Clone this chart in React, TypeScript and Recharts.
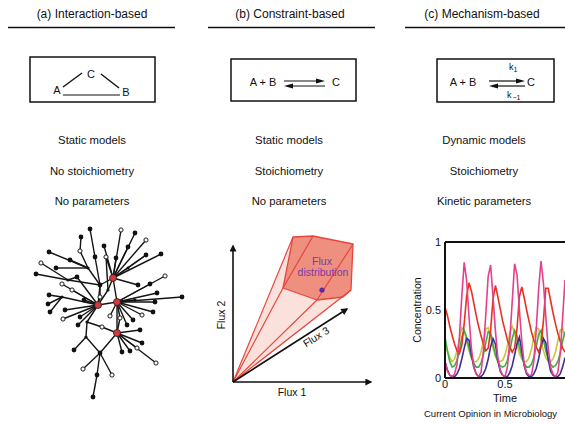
import React from "react"
import { LineChart, Line, XAxis, YAxis, ReferenceLine, ScatterChart, Scatter } from "recharts"

const FONT = '"Liberation Sans", Arial, Helvetica, sans-serif'

// ---- text rows under the three panel headers ----
const panelTitles = ["(a) Interaction-based", "(b) Constraint-based", "(c) Mechanism-based"]
const modelKinds = ["Static models", "Static models", "Dynamic models"]
const stoichiometry = ["No stoichiometry", "Stoichiometry", "Stoichiometry"]
const parameters = ["No parameters", "No parameters", "Kinetic parameters"]

// ---- (c) concentration time course ----
const timeSteps = [
  0, 0.02, 0.04, 0.06, 0.08, 0.1, 0.12, 0.14, 0.16, 0.18, 0.2, 0.22, 0.24, 0.26, 0.28, 0.3, 0.32,
  0.34, 0.36, 0.38, 0.4, 0.42, 0.44, 0.46, 0.48, 0.5, 0.52, 0.54, 0.56, 0.58, 0.6, 0.62, 0.64,
  0.66, 0.68, 0.7, 0.72, 0.74, 0.76, 0.78, 0.8, 0.82, 0.84, 0.86, 0.88, 0.9, 0.92, 0.94, 0.96,
  0.98, 1,
]
const pinkSeries = [
  0.12, 0.05, 0.02, 0.01, 0.03, 0.1, 0.3, 0.6, 0.85, 0.72, 0.45, 0.22, 0.08, 0.03, 0.01, 0.04, 0.2,
  0.47, 0.75, 0.83, 0.6, 0.35, 0.15, 0.06, 0.02, 0.01, 0.08, 0.28, 0.56, 0.84, 0.76, 0.5, 0.27,
  0.1, 0.04, 0.02, 0.02, 0.12, 0.35, 0.65, 0.86, 0.7, 0.45, 0.22, 0.08, 0.03, 0.01, 0.04, 0.18,
  0.44, 0.72,
]
const redSeries = [
  0.52, 0.46, 0.38, 0.31, 0.25, 0.2, 0.18, 0.24, 0.4, 0.6, 0.7, 0.64, 0.55, 0.46, 0.38, 0.31, 0.25,
  0.2, 0.22, 0.35, 0.58, 0.68, 0.6, 0.51, 0.42, 0.35, 0.28, 0.23, 0.19, 0.22, 0.36, 0.6, 0.67,
  0.59, 0.5, 0.42, 0.34, 0.28, 0.23, 0.19, 0.24, 0.42, 0.66, 0.66, 0.57, 0.48, 0.4, 0.33, 0.27,
  0.22, 0.19,
]
const greenSeries = [
  0.3, 0.2, 0.12, 0.08, 0.09, 0.13, 0.2, 0.3, 0.35, 0.3, 0.22, 0.15, 0.11, 0.08, 0.08, 0.11, 0.17,
  0.26, 0.34, 0.33, 0.25, 0.17, 0.12, 0.09, 0.08, 0.09, 0.13, 0.2, 0.29, 0.35, 0.31, 0.23, 0.16,
  0.11, 0.08, 0.08, 0.1, 0.15, 0.23, 0.32, 0.35, 0.28, 0.2, 0.14, 0.1, 0.08, 0.09, 0.12, 0.18,
  0.27, 0.34,
]
const yellowSeries = [
  0.28, 0.2, 0.15, 0.12, 0.14, 0.2, 0.29, 0.37, 0.35, 0.27, 0.2, 0.15, 0.12, 0.12, 0.14, 0.19,
  0.27, 0.36, 0.37, 0.3, 0.22, 0.16, 0.13, 0.12, 0.13, 0.17, 0.24, 0.33, 0.38, 0.33, 0.25, 0.18,
  0.14, 0.12, 0.12, 0.15, 0.21, 0.3, 0.37, 0.36, 0.28, 0.2, 0.15, 0.12, 0.12, 0.14, 0.19, 0.27,
  0.35, 0.37, 0.3,
]
const blueSeries = [
  0.12, 0.06, 0.02, 0.01, 0.01, 0.03, 0.07, 0.14, 0.22, 0.29, 0.28, 0.17, 0.08, 0.03, 0.01, 0.01,
  0.03, 0.07, 0.14, 0.23, 0.29, 0.25, 0.13, 0.05, 0.02, 0.01, 0.01, 0.04, 0.09, 0.17, 0.25, 0.3,
  0.2, 0.09, 0.03, 0.01, 0.01, 0.03, 0.07, 0.14, 0.23, 0.29, 0.26, 0.14, 0.05, 0.02, 0.01, 0.01,
  0.03, 0.08, 0.15,
]
const timeTicks = [0, 0.5]
const timeTickLabels = ["0", "0.5"]
const concTicks = [0, 0.5, 1]
const concTickLabels = ["0", "0.5", "1"]

// ---- (a) network: nodes and edges ----
const networkNodes = [
  { x: 113, y: 278, kind: "hub" }, { x: 98, y: 305, kind: "hub" }, { x: 117, y: 302, kind: "hub" },
  { x: 117, y: 333, kind: "hub" }, { x: 100, y: 285, kind: "filled" }, { x: 88, y: 268, kind: "joint" },
  { x: 68, y: 280, kind: "joint" }, { x: 62, y: 297, kind: "joint" }, { x: 87, y: 322, kind: "joint" },
  { x: 100, y: 353, kind: "filled" }, { x: 86, y: 337, kind: "joint" }, { x: 128, y: 268, kind: "joint" },
  { x: 90, y: 229, kind: "filled" }, { x: 121, y: 230, kind: "hollow" }, { x: 135, y: 233, kind: "filled" },
  { x: 81, y: 237, kind: "filled" }, { x: 146, y: 240, kind: "hollow" }, { x: 49, y: 252, kind: "filled" },
  { x: 80, y: 251, kind: "hollow" }, { x: 95, y: 257, kind: "filled" }, { x: 106, y: 257, kind: "hollow" },
  { x: 116, y: 258, kind: "filled" }, { x: 146, y: 255, kind: "filled" }, { x: 161, y: 254, kind: "filled" },
  { x: 41, y: 263, kind: "hollow" }, { x: 70, y: 260, kind: "filled" }, { x: 36, y: 274, kind: "filled" },
  { x: 77, y: 277, kind: "filled" }, { x: 62, y: 284, kind: "hollow" }, { x: 49, y: 295, kind: "filled" },
  { x: 150, y: 284, kind: "filled" }, { x: 157, y: 293, kind: "filled" }, { x: 182, y: 297, kind: "filled" },
  { x: 155, y: 302, kind: "filled" }, { x: 48, y: 304, kind: "filled" }, { x: 50, y: 312, kind: "filled" },
  { x: 65, y: 310, kind: "filled" }, { x: 63, y: 319, kind: "hollow" }, { x: 80, y: 317, kind: "filled" },
  { x: 78, y: 325, kind: "filled" }, { x: 153, y: 312, kind: "filled" }, { x: 142, y: 315, kind: "hollow" },
  { x: 133, y: 320, kind: "filled" }, { x: 127, y: 325, kind: "filled" }, { x: 102, y: 327, kind: "hollow" },
  { x: 142, y: 343, kind: "filled" }, { x: 122, y: 352, kind: "filled" }, { x: 130, y: 351, kind: "filled" },
  { x: 137, y: 348, kind: "hollow" }, { x: 156, y: 363, kind: "hollow" }, { x: 74, y: 350, kind: "filled" },
  { x: 83, y: 369, kind: "hollow" }, { x: 112, y: 375, kind: "hollow" }, { x: 97, y: 375, kind: "filled" },
  { x: 93, y: 397, kind: "filled" }, { x: 135, y: 300, kind: "joint" }, { x: 108, y: 290, kind: "joint" },
  { x: 120, y: 318, kind: "hollow" }, { x: 138, y: 285, kind: "filled" }, { x: 100, y: 297, kind: "hollow" },
  { x: 104, y: 246, kind: "filled" }, { x: 128, y: 247, kind: "filled" }, { x: 56, y: 268, kind: "filled" },
  { x: 72, y: 290, kind: "hollow" }, { x: 165, y: 276, kind: "hollow" }, { x: 140, y: 330, kind: "filled" },
  { x: 84, y: 300, kind: "filled" }, { x: 110, y: 316, kind: "hollow" },
]
const networkEdges = [
  [0, 13], [0, 14], [0, 16], [0, 22], [0, 23], [0, 20], [0, 21], [0, 11], [0, 4], [0, 56], [0, 2],
  [12, 19], [19, 4], [15, 18], [18, 5], [5, 4], [5, 25], [17, 5], [24, 6], [26, 6], [6, 27], [6, 4],
  [27, 1], [28, 1], [29, 7], [7, 1], [34, 7], [35, 7], [36, 1], [37, 1], [38, 1], [39, 1],
  [30, 2], [31, 2], [32, 2], [33, 2], [40, 2], [41, 2], [42, 2], [43, 2], [55, 2], [58, 0],
  [1, 2], [1, 4], [1, 59], [59, 4], [2, 3], [1, 8], [8, 10], [8, 44], [44, 3], [3, 45], [3, 46],
  [3, 47], [3, 48], [3, 49], [3, 57], [57, 2], [10, 50], [10, 9], [9, 3], [9, 51], [9, 52],
  [9, 53], [53, 54], [56, 1], [56, 20], [11, 22],
  [60, 0], [61, 0], [62, 5], [63, 1], [64, 2], [65, 3], [66, 1], [67, 2],
]

// ---- (b) flux cone ----
const fluxOrigin = { x: 233, y: 382 }
const fluxCone = [fluxOrigin, { x: 293, y: 237 }, { x: 283, y: 288 }, { x: 317, y: 300 }, { x: 343, y: 297 }, { x: 351, y: 290 }]
const fluxPolytope = [
  { x: 293, y: 237 }, { x: 313, y: 236 }, { x: 353, y: 244 }, { x: 351, y: 290 },
  { x: 343, y: 297 }, { x: 317, y: 300 }, { x: 283, y: 288 },
]
const fluxRays = [
  [fluxOrigin, { x: 293, y: 237 }], [fluxOrigin, { x: 283, y: 288 }],
  [fluxOrigin, { x: 317, y: 300 }], [fluxOrigin, { x: 351, y: 290 }],
  [{ x: 313, y: 236 }, { x: 283, y: 288 }], [{ x: 353, y: 244 }, { x: 317, y: 300 }],
]
const fluxAxes = [
  [fluxOrigin, { x: 371, y: 382 }],
  [fluxOrigin, { x: 233, y: 246 }],
  [fluxOrigin, { x: 347, y: 309 }],
]
const fluxPoint = [{ x: 322, y: 290 }]

const concRows = timeSteps.map((t, i) => ({
  t,
  pink: pinkSeries[i],
  red: redSeries[i],
  green: greenSeries[i],
  yellow: yellowSeries[i],
  blue: blueSeries[i],
}))

const pathLine = (fill: string, stroke: string, closed: boolean, width = 1.2, marker?: string) =>
  (props: any) => {
    const pts = props.points || []
    const d = pts.map((p: any, i: number) => `${i ? "L" : "M"}${p.x},${p.y}`).join(" ") + (closed ? " Z" : "")
    return <path d={d} fill={fill} stroke={stroke} strokeWidth={width} strokeLinejoin="round" markerEnd={marker} />
  }

const noShape = () => <g />
const fluxDot = (props: any) => <circle cx={props.cx} cy={props.cy} r={2.6} fill="#5b2aa8" />

const NodeShape = (props: any) => {
  const { cx, cy, payload } = props
  if (payload.kind === "hub") return <circle cx={cx} cy={cy} r={3.5} fill="#d9363e" stroke="#222" strokeWidth={0.8} />
  if (payload.kind === "hollow") return <circle cx={cx} cy={cy} r={2.1} fill="#fff" stroke="#1a1a1a" strokeWidth={1} />
  if (payload.kind === "joint") return <circle cx={cx} cy={cy} r={1.6} fill="#111" />
  return <circle cx={cx} cy={cy} r={2.4} fill="#111" />
}

function NetworkPanel() {
  return (
    <div style={{ position: "absolute", left: 20, top: 220 }}>
      <ScatterChart width={180} height={190} margin={{ top: 0, right: 0, bottom: 0, left: 0 }}>
        <XAxis type="number" dataKey="x" domain={[20, 200]} hide />
        <YAxis type="number" dataKey="y" domain={[220, 410]} reversed hide />
        {networkEdges.map(([a, b], i) => (
          <ReferenceLine
            key={i}
            segment={[
              { x: networkNodes[a].x, y: networkNodes[a].y },
              { x: networkNodes[b].x, y: networkNodes[b].y },
            ]}
            stroke="#141414"
            strokeWidth={1.4}
          />
        ))}
        <Scatter data={networkNodes} shape={NodeShape} isAnimationActive={false} />
      </ScatterChart>
    </div>
  )
}

function FluxPanel() {
  return (
    <div style={{ position: "absolute", left: 215, top: 225 }}>
      <ScatterChart width={170} height={180} margin={{ top: 0, right: 0, bottom: 0, left: 0 }}>
        <XAxis type="number" dataKey="x" domain={[215, 385]} hide />
        <YAxis type="number" dataKey="y" domain={[225, 405]} reversed hide />
        <Scatter data={fluxCone} line={pathLine("#fbe1dc", "none", true)} shape={noShape} isAnimationActive={false} />
        <Scatter data={fluxPolytope} line={pathLine("#ee8f80", "#e8463c", true, 1.3)} shape={noShape} isAnimationActive={false} />
        {fluxRays.map((seg, i) => (
          <Scatter key={`r${i}`} data={seg} line={pathLine("none", "#e8463c", false, 1.2)} shape={noShape} isAnimationActive={false} />
        ))}
        {fluxAxes.map((seg, i) => (
          <Scatter key={`a${i}`} data={seg} line={pathLine("none", "#111", false, 1.6, "url(#arrowBlack)")} shape={noShape} isAnimationActive={false} />
        ))}
        <Scatter data={fluxPoint} shape={fluxDot} isAnimationActive={false} />
      </ScatterChart>
    </div>
  )
}

function ConcentrationPanel() {
  const tickStyle = { fontSize: 11, fill: "#111", fontFamily: FONT }
  return (
    <div style={{ position: "absolute", left: 400, top: 232 }}>
      <LineChart width={170} height={176} data={concRows} margin={{ top: 10, right: 5, bottom: 0, left: 0 }}>
        <XAxis
          dataKey="t"
          type="number"
          domain={[0, 1]}
          ticks={timeTicks}
          tickFormatter={(v: number) => timeTickLabels[timeTicks.indexOf(v)]}
          axisLine={{ stroke: "#111", strokeWidth: 2 }}
          tickLine={false}
          tickSize={0}
          tickMargin={2}
          tick={tickStyle}
          height={30}
          label={{ value: "Time", position: "insideBottom", offset: 6, style: { fontSize: 11, fill: "#111", fontFamily: FONT } }}
        />
        <YAxis
          type="number"
          domain={[0, 1]}
          ticks={concTicks}
          tickFormatter={(v: number) => concTickLabels[concTicks.indexOf(v)]}
          axisLine={{ stroke: "#111", strokeWidth: 2 }}
          tickLine={false}
          tickSize={0}
          tickMargin={4}
          tick={tickStyle}
          width={45}
          label={{
            value: "Concentration",
            angle: -90,
            position: "insideLeft",
            offset: 17,
            style: { textAnchor: "middle", fontSize: 10.5, fill: "#111", fontFamily: FONT },
          }}
        />
        <ReferenceLine y={1} stroke="#111" strokeWidth={2} />
        <Line dataKey="yellow" stroke="#c9c63a" strokeWidth={1.6} dot={false} isAnimationActive={false} />
        <Line dataKey="green" stroke="#3daf4a" strokeWidth={1.6} dot={false} isAnimationActive={false} />
        <Line dataKey="blue" stroke="#3a2f96" strokeWidth={1.6} dot={false} isAnimationActive={false} />
        <Line dataKey="red" stroke="#e6321f" strokeWidth={1.6} dot={false} isAnimationActive={false} />
        <Line dataKey="pink" stroke="#e4408e" strokeWidth={1.6} dot={false} isAnimationActive={false} />
      </LineChart>
    </div>
  )
}

function Overlay() {
  const cx = [92, 290, 482]
  const rowCx = [92, 289, 484]
  const txt = { fontFamily: FONT, fill: "#111" }
  return (
    <svg width={565} height={424} style={{ position: "absolute", left: 0, top: 0, pointerEvents: "none" }}>
      <defs>
        <marker id="arrowBlack" viewBox="0 0 10 10" refX="8" refY="5" markerWidth="8" markerHeight="7" orient="auto" markerUnits="userSpaceOnUse">
          <path d="M0,0 L10,5 L0,10 z" fill="#111" />
        </marker>
      </defs>
      {panelTitles.map((t, i) => (
        <text key={t} x={cx[i]} y={18} textAnchor="middle" fontSize={12} {...txt}>{t}</text>
      ))}
      <line x1={8} y1={27.5} x2={175} y2={27.5} stroke="#111" strokeWidth={1.3} />
      <line x1={208} y1={27.5} x2={375} y2={27.5} stroke="#111" strokeWidth={1.3} />
      <line x1={405} y1={27.5} x2={565} y2={27.5} stroke="#111" strokeWidth={1.3} />

      {/* (a) box */}
      <rect x={30} y={57} width={125} height={45} fill="none" stroke="#111" strokeWidth={1.5} />
      <text x={57} y={94} textAnchor="middle" fontSize={11} {...txt}>A</text>
      <text x={91} y={78} textAnchor="middle" fontSize={11} {...txt}>C</text>
      <text x={126} y={96} textAnchor="middle" fontSize={11} {...txt}>B</text>
      <line x1={63} y1={87} x2={82} y2={73} stroke="#111" strokeWidth={1.4} />
      <line x1={101} y1={74} x2={119} y2={88} stroke="#111" strokeWidth={1.4} />
      <line x1={63} y1={95} x2={120} y2={95} stroke="#111" strokeWidth={1.2} />

      {/* (b) box */}
      <rect x={231} y={59} width={125} height={42} fill="none" stroke="#111" strokeWidth={1.5} />
      <text x={263} y={86} textAnchor="middle" fontSize={11} {...txt}>A + B</text>
      <line x1={284} y1={81} x2={320} y2={81} stroke="#111" strokeWidth={1.2} />
      <path d="M325,81 L316,78.5 L316,83.5 z" fill="#111" />
      <line x1={289} y1={86} x2={325} y2={86} stroke="#111" strokeWidth={1.2} />
      <path d="M284,86 L293,83.5 L293,88.5 z" fill="#111" />
      <text x={336} y={86} textAnchor="middle" fontSize={11} {...txt}>C</text>

      {/* (c) box */}
      <rect x={437} y={59} width={117} height={43} fill="none" stroke="#111" strokeWidth={1.5} />
      <text x={463} y={86} textAnchor="middle" fontSize={11} {...txt}>A + B</text>
      <line x1={489} y1={81} x2={520} y2={81} stroke="#111" strokeWidth={1.2} />
      <path d="M525,81 L516,78.5 L516,83.5 z" fill="#111" />
      <line x1={494} y1={86} x2={525} y2={86} stroke="#111" strokeWidth={1.2} />
      <path d="M489,86 L498,83.5 L498,88.5 z" fill="#111" />
      <text x={531} y={86} textAnchor="middle" fontSize={11} {...txt}>C</text>
      <text x={509} y={70} fontSize={9} {...txt}>k<tspan fontSize={7} dy={2} fill="#111">1</tspan></text>
      <text x={507} y={98} fontSize={9} {...txt}>k<tspan fontSize={7} dy={2} dx={1} fill="#111">−1</tspan></text>

      {modelKinds.map((t, i) => (
        <text key={`m${i}`} x={rowCx[i]} y={144} textAnchor="middle" fontSize={11.3} {...txt}>{t}</text>
      ))}
      {stoichiometry.map((t, i) => (
        <text key={`s${i}`} x={rowCx[i]} y={175} textAnchor="middle" fontSize={11.3} {...txt}>{t}</text>
      ))}
      {parameters.map((t, i) => (
        <text key={`p${i}`} x={rowCx[i]} y={205} textAnchor="middle" fontSize={11.3} {...txt}>{t}</text>
      ))}

      {/* flux labels */}
      <text x={292} y={396} textAnchor="middle" fontSize={10.5} {...txt}>Flux 1</text>
      <text x={0} y={0} textAnchor="middle" fontSize={10.5} {...txt} transform="translate(225,315) rotate(-90)">Flux 2</text>
      <text x={0} y={0} textAnchor="middle" fontSize={10.5} {...txt} transform="translate(318,340) rotate(-32)">Flux 3</text>
      <text x={322} y={265} textAnchor="middle" fontSize={10.5} fontFamily={FONT} fill="#7a3aa6">Flux</text>
      <text x={323} y={276} textAnchor="middle" fontSize={10.5} fontFamily={FONT} fill="#7a3aa6">distribution</text>

      <text x={424} y={417} fontSize={9.5} {...txt}>Current Opinion in Microbiology</text>
    </svg>
  )
}

export default function App() {
  return (
    <div style={{ position: "absolute", left: 0, top: 0, width: 565, height: 424, overflow: "hidden", background: "#fff", fontFamily: FONT }}>
      <NetworkPanel />
      <FluxPanel />
      <ConcentrationPanel />
      <Overlay />
    </div>
  )
}
